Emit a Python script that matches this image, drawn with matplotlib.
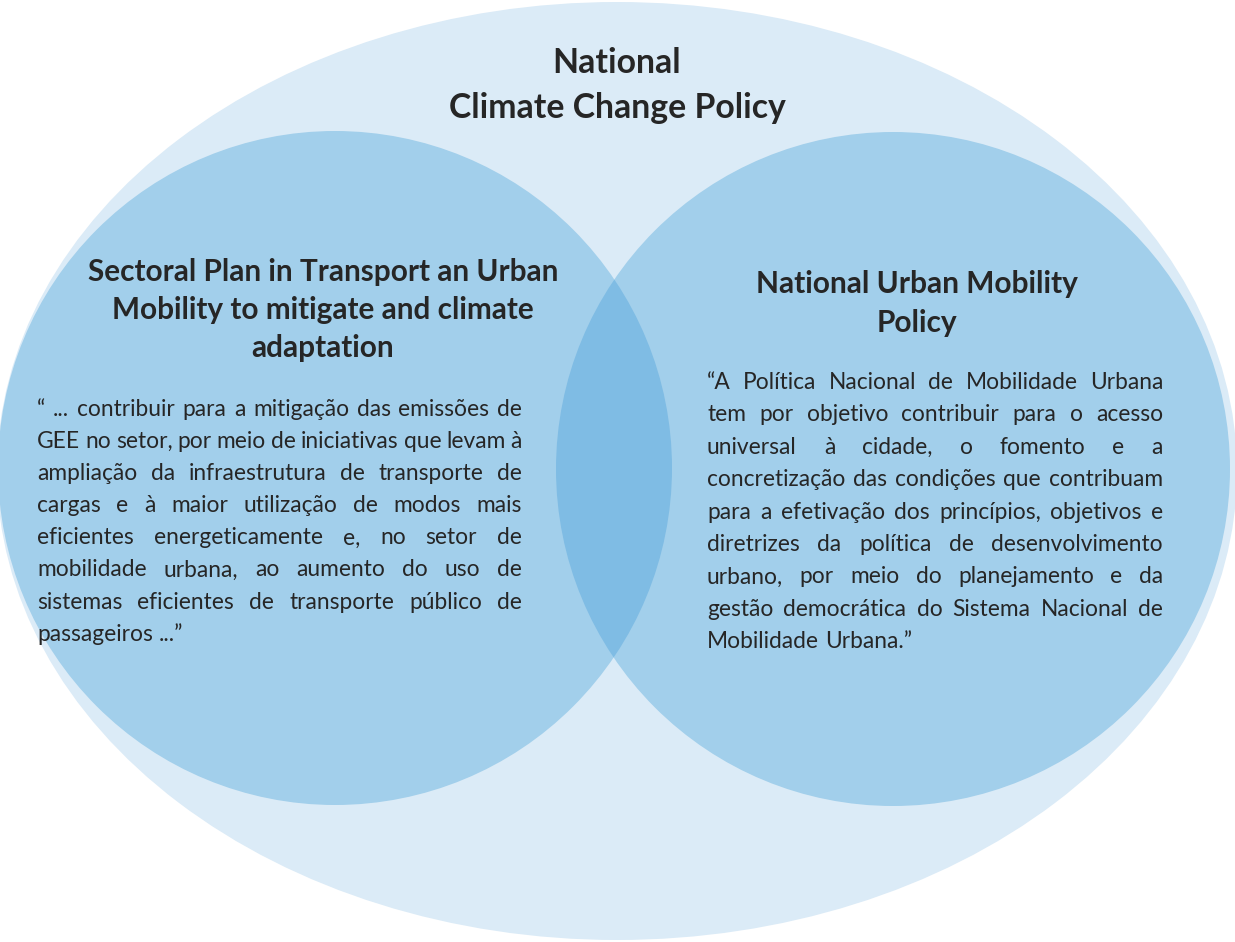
import matplotlib

matplotlib.use("Agg")
import matplotlib.pyplot as plt
from matplotlib.patches import Ellipse, Circle

W, H = 1235, 942
FONT = "Lato"
TXT = "#262626"
OUTER = "#dbebf7"
INNER = "#a2cfeb"
OVERLAP = "#7fbce4"

TOP_TITLE = ["National", "Climate Change Policy"]
LEFT_TITLE = ["Sectoral Plan in Transport an Urban",
              "Mobility to mitigate and climate", "adaptation"]
RIGHT_TITLE = ["National Urban Mobility", "Policy"]
LEFT_QUOTE = [
    "“ ... contribuir para a mitigação das emissões de",
    "GEE no setor, por meio de iniciativas que levam à",
    "ampliação da infraestrutura de transporte de",
    "cargas e à maior utilização de modos mais",
    "eficientes energeticamente e, no setor de",
    "mobilidade urbana, ao aumento do uso de",
    "sistemas eficientes de transporte público de",
    "passageiros ...”",
]
RIGHT_QUOTE = [
    "“A Política Nacional de Mobilidade Urbana",
    "tem por objetivo contribuir para o acesso",
    "universal à cidade, o fomento e a",
    "concretização das condições que contribuam",
    "para a efetivação dos princípios, objetivos e",
    "diretrizes da política de desenvolvimento",
    "urbano, por meio do planejamento e da",
    "gestão democrática do Sistema Nacional de",
    "Mobilidade Urbana.”",
]

fig = plt.figure(figsize=(W / 100, H / 100), dpi=100)
ax = fig.add_axes([0, 0, 1, 1])
ax.set_xlim(0, W)
ax.set_ylim(H, 0)
ax.axis("off")
renderer = fig.canvas.get_renderer()

# circles
ax.add_patch(Ellipse((617, 471), 1240, 938, color=OUTER, lw=0))
ax.add_patch(Circle((335, 468), 337, color=INNER, lw=0))
ax.add_patch(Circle((893, 469), 337, color=INNER, lw=0))
lens = Circle((893, 469), 337, color=OVERLAP, lw=0)
ax.add_patch(lens)
lens.set_clip_path(Circle((335, 468), 337, transform=ax.transData))


def width(s, size, weight="normal"):
    t = ax.text(0, 0, s, fontsize=size, family=FONT, fontweight=weight)
    w = t.get_window_extent(renderer).width
    t.remove()
    return w


def fit(s, target, weight="normal"):
    return 20 * target / width(s, 20, weight)


def centered(lines, cx, y0, step, size):
    for i, s in enumerate(lines):
        ax.text(cx, y0 + i * step, s, fontsize=size, family=FONT, fontweight="bold",
                color=TXT, ha="center", va="baseline")


def justified(lines, x0, x1, y0, step, size):
    sp = width("a a", size) - width("aa", size)
    for i, s in enumerate(lines):
        y = y0 + i * step
        words = s.split(" ")
        ws = [width(w, size) for w in words]
        if i == len(lines) - 1 or len(words) == 1:
            gap = sp
        else:
            gap = (x1 - x0 - sum(ws)) / (len(words) - 1)
        x = x0
        for w, ww in zip(words, ws):
            ax.text(x, y, w, fontsize=size, family=FONT, color=TXT, ha="left", va="baseline")
            x += ww + gap


centered(TOP_TITLE, 617, 73, 45, fit(TOP_TITLE[1], 336, "bold"))
centered(LEFT_TITLE, 323, 281, 38, fit(LEFT_TITLE[0], 469, "bold"))
centered(RIGHT_TITLE, 917, 293, 39, fit(RIGHT_TITLE[0], 322, "bold"))

# both quotes share one type size, set between their tightest lines
qsize = 0.5 * (fit(LEFT_QUOTE[1], 485) + fit(RIGHT_QUOTE[3], 456))
justified(LEFT_QUOTE, 37, 522, 416, 32.1, qsize)
justified(RIGHT_QUOTE, 707, 1163, 389, 32.4, qsize)

fig.savefig("out.png", dpi=100)
